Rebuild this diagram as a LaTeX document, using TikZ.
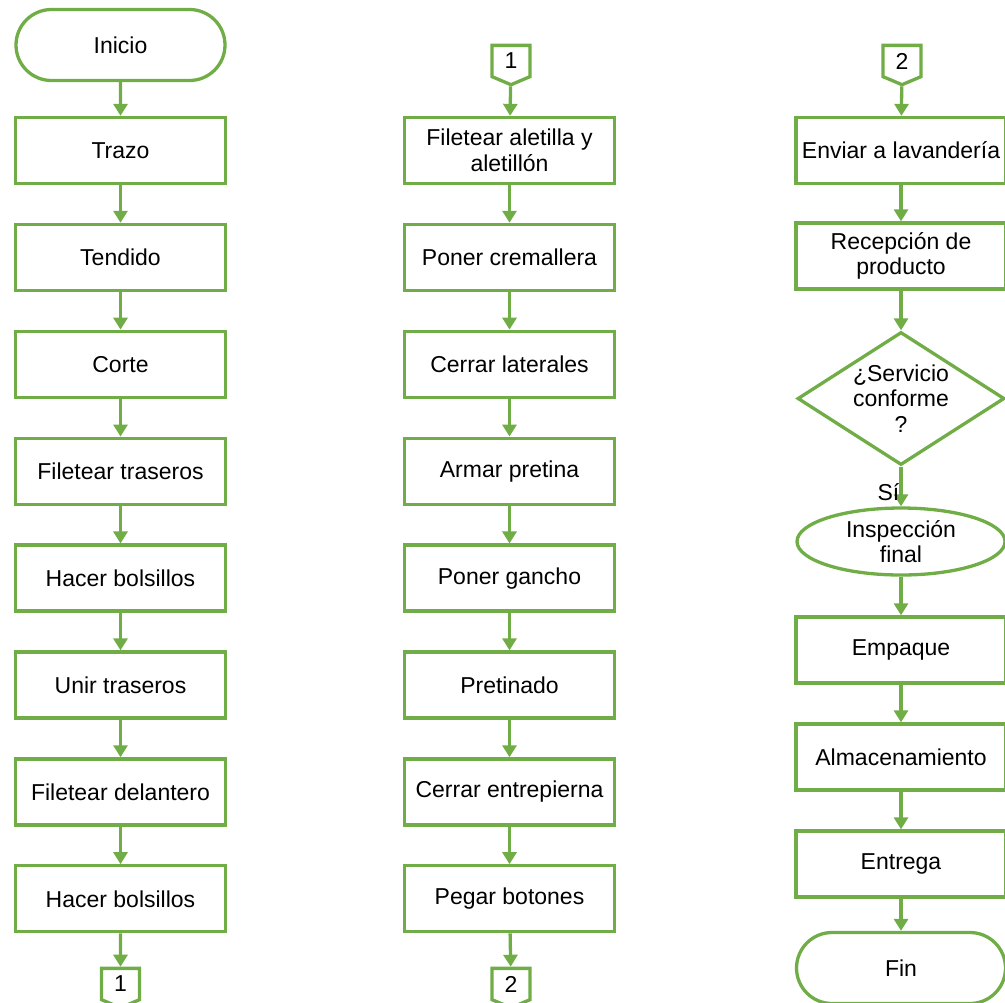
\documentclass[tikz,border=0pt]{standalone}
\usepackage{fontspec}
\setmainfont{Liberation Sans}
\usetikzlibrary{arrows.meta, shapes.geometric, shapes.misc, shapes.symbols}
\definecolor{flowgreen}{HTML}{70AD47}

\begin{document}
\begin{tikzpicture}[x=0.5pt, y=-0.5pt,
    every node/.style={font=\fontsize{11.5}{12.8}\selectfont, align=center, inner sep=1pt},
    proc/.style={draw=flowgreen, line width=1.65pt, minimum width=105pt, minimum height=33pt},
    term/.style={draw=flowgreen, line width=1.65pt, rounded rectangle, minimum width=106.5pt, minimum height=35.5pt},
    offpage/.style={draw=flowgreen, line width=1.65pt, signal, signal to=south, signal pointer angle=134, minimum width=19pt, minimum height=17pt, inner sep=0pt},
    decision/.style={draw=flowgreen, line width=1.65pt, diamond, minimum width=103.5pt, minimum height=66.5pt, inner sep=0pt},
    oval/.style={draw=flowgreen, line width=1.65pt, ellipse, minimum width=104pt, minimum height=33.5pt, inner sep=0pt},
    flow/.style={draw=flowgreen, line width=1.65pt, -{Triangle[width=7pt, length=6pt]}}]
    \useasboundingbox (0,0) rectangle (1005,1002);
    % Column 1
    \node[term] (ini) at (120.5,45) {Inicio};
    \foreach \n/\t [count=\i] in {a1/Trazo, a2/Tendido, a3/Corte, a4/Filetear traseros, a5/Hacer bolsillos, a6/Unir traseros, a7/Filetear delantero, a8/Hacer bolsillos}
        \node[proc] (\n) at (120.5,{43.6+106.9*\i}) {\t};
    \node[offpage] (c1out) at (120.5,984) {1};
    \foreach \a/\b in {ini/a1, a1/a2, a2/a3, a3/a4, a4/a5, a5/a6, a6/a7, a7/a8, a8/c1out}
        \draw[flow] (\a) -- (\b);
    % Column 2
    \node[offpage] (c1in) at (511,61) {1};
    \foreach \n/\t [count=\i] in {b1/{Filetear aletilla y\\aletillón}, b2/Poner cremallera, b3/Cerrar laterales, b4/Armar pretina, b5/Poner gancho, b6/Pretinado, b7/Cerrar entrepierna, b8/Pegar botones}
        \node[proc] (\n) at (509.5,{43.6+106.9*\i}) {\t};
    \node[offpage] (c2out) at (511,984) {2};
    \foreach \a/\b in {c1in/b1, b1/b2, b2/b3, b3/b4, b4/b5, b5/b6, b6/b7, b7/b8, b8/c2out}
        \draw[flow] (\a) -- (\b);
    % Column 3
    \node[offpage] (c2in) at (902,61) {2};
    \node[proc] (d1) at (901,150.5) {Enviar a lavandería};
    \node[proc] (d2) at (901,256) {Recepción de\\producto};
    \node[decision, label={[align=center]center:¿Servicio\\conforme\\?}] (chk) at (901,398.5) {};
    \node[oval, label={[align=center]center:Inspección\\final}] (insp) at (901,541.5) {};
    \node[proc] (d3) at (901,650) {Empaque};
    \node[proc] (d4) at (901,757) {Almacenamiento};
    \node[proc] (d5) at (901,864) {Entrega};
    \node[term] (fin) at (901,968) {Fin};
    \foreach \a/\b in {c2in/d1, d1/d2, d2/chk, insp/d3, d3/d4, d4/d5, d5/fin}
        \draw[flow] (\a) -- (\b);
    \draw[flow] (chk) -- node[pos=0.65, left, inner sep=0pt] {Sí} (insp);
\end{tikzpicture}
\end{document}
